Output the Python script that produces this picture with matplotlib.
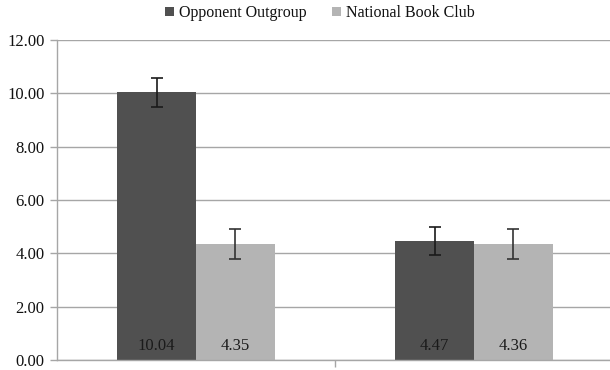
import matplotlib
matplotlib.use("Agg")
import matplotlib.pyplot as plt
import numpy as np

categories = ["", ""]
series_names = ["Opponent Outgroup", "National Book Club"]
outgroup_values = [10.04, 4.47]
bookclub_values = [4.35, 4.36]
outgroup_err = [0.54, 0.52]
bookclub_err = [0.57, 0.57]
y_ticks = [0, 2, 4, 6, 8, 10, 12]

dark = "#505050"
light = "#b4b4b4"
grid_col = "#a6a6a6"
fs_num = 12
fs_leg = 11.5

plt.rcParams["font.family"] = ["Liberation Serif", "DejaVu Serif"]

fig = plt.figure(figsize=(6.1, 3.7), dpi=100)
ax = fig.add_axes([57 / 610, 10 / 370, 556 / 610, 320 / 370])

x = np.arange(len(categories))
w = 0.284
b1 = ax.bar(x - w / 2, outgroup_values, w, color=dark, label=series_names[0], zorder=2)
b2 = ax.bar(x + w / 2, bookclub_values, w, color=light, label=series_names[1], zorder=2)
ax.errorbar(x - w / 2, outgroup_values, yerr=outgroup_err, fmt="none",
            ecolor="#1a1a1a", elinewidth=1.2, capsize=4, capthick=1.2, zorder=3)
ax.errorbar(x + w / 2, bookclub_values, yerr=bookclub_err, fmt="none",
            ecolor="#333333", elinewidth=1.2, capsize=4, capthick=1.2, zorder=3)

for xs, vals in ((x - w / 2, outgroup_values), (x + w / 2, bookclub_values)):
    for xi, v in zip(xs, vals):
        ax.text(xi, 0.52, f"{v:.2f}", ha="center", va="center",
                fontsize=fs_num, color="#1a1a1a", zorder=4)

ax.set_xlim(-0.5, 1.5)
ax.set_ylim(0, 12)
ax.set_yticks(y_ticks)
ax.set_yticklabels([f"{t:.2f}" for t in y_ticks], fontsize=fs_num, color="#111111")
ax.set_xticks([0.5])
ax.set_xticklabels([])
ax.tick_params(axis="x", length=5, color=grid_col, width=1)
ax.tick_params(axis="y", length=5, color=grid_col, width=1, pad=4)

ax.yaxis.grid(True, color=grid_col, linewidth=1, zorder=0)
ax.set_axisbelow(True)
for s in ("top", "right"):
    ax.spines[s].set_visible(False)
for s in ("left", "bottom"):
    ax.spines[s].set_color(grid_col)
    ax.spines[s].set_linewidth(1)

fig.legend(handles=[b1, b2], labels=series_names, loc="center",
           bbox_to_anchor=(320 / 610, 1 - 13 / 370), ncol=2, frameon=False,
           fontsize=fs_leg, handlelength=0.55, handleheight=0.55, handletextpad=0.3,
           columnspacing=1.6, borderpad=0)
for t in fig.legends[0].get_texts():
    t.set_color("#111111")

fig.savefig("out.png", dpi=100)
